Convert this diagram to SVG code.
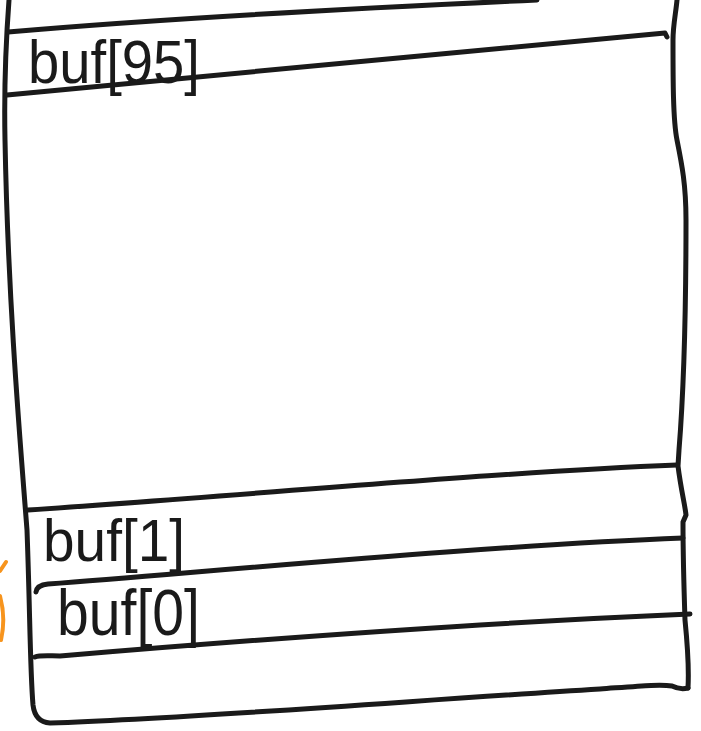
<svg xmlns="http://www.w3.org/2000/svg" width="701" height="731" viewBox="0 0 701 731">
<style>
.ink{fill:none;stroke:#1a1a1a;stroke-width:5;stroke-linecap:round;stroke-linejoin:round}
.or{fill:none;stroke:#f7941d;stroke-width:4;stroke-linecap:round}
.lbl{font-family:"Liberation Sans","DejaVu Sans",sans-serif;fill:#1a1a1a}
</style>
<rect width="701" height="731" fill="#ffffff"/>
<g id="frame">
<path class="ink" d="M9,0 C6,40 4,90 5,140 C8,300 20,440 27,530 C30,610 30,670 33,705 Q35,722 50,723 C200,718 420,700 600,689 C640,686 660,684 672,686 Q680,690 688,688"/>
<path class="ink" d="M677,0 C676,12 673,25 673,40 C673,80 673,120 677,140 C682,165 686,185 686,220 C686,320 683,400 679,450 L678,466 C681,490 685,505 686,515 L683,522 C683,560 684,590 685,620 C688,650 689,670 688,688"/>
<path class="ink" d="M8,32 C100,24 250,13 537,0"/>
</g>
<g id="cell-buf95">
<path class="ink" d="M7,95 C200,78 450,52 665,33 L667,37"/>
<text class="lbl" x="28" y="83" font-size="62" textLength="172" lengthAdjust="spacingAndGlyphs">buf[95]</text>
</g>
<g id="cell-gap">
<path class="ink" d="M28,510 C250,495 500,472 677,465"/>
</g>
<g id="cell-buf1">
<text class="lbl" x="43" y="561" font-size="60" textLength="142" lengthAdjust="spacingAndGlyphs">buf[1]</text>
<path class="ink" d="M36,592 Q37,585 48,584 C250,568 500,545 683,538"/>
</g>
<g id="cell-buf0">
<text class="lbl" x="57" y="635" font-size="64" textLength="143" lengthAdjust="spacingAndGlyphs">buf[0]</text>
<path class="ink" d="M35,657 C40,655 50,656 60,656 C250,640 500,622 690,614"/>
</g>
<g id="annotation">
<path class="or" d="M0,571 L6,562"/>
<path class="or" d="M0,596 Q6,618 1,640"/>
</g>
</svg>
